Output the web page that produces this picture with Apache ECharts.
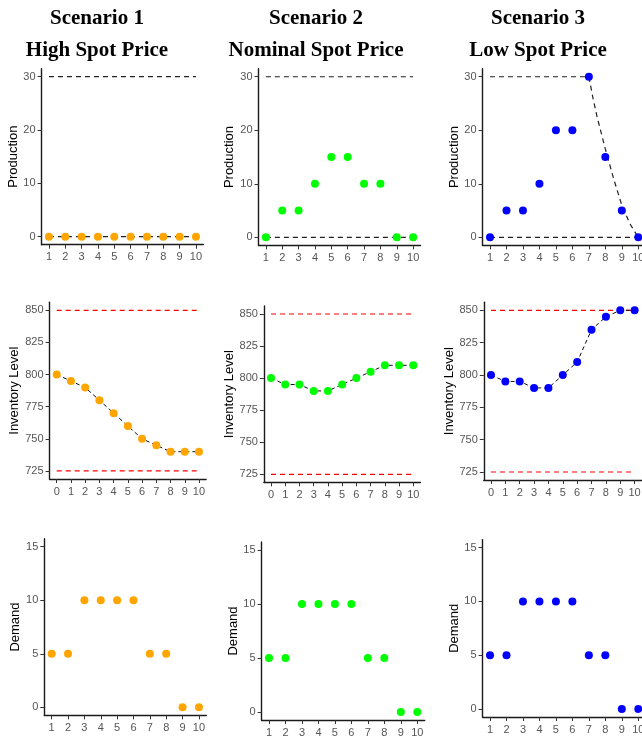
<!DOCTYPE html>
<html>
<head>
<meta charset="utf-8">
<script src="https://cdn.jsdelivr.net/npm/echarts@6/dist/echarts.min.js"></script>
<style>
html, body { margin: 0; padding: 0; background: #fff; }
#chart { width: 642px; height: 738px; }
</style>
</head>
<body>
<div id="chart"></div>
<script>
let myChart = echarts.init(document.getElementById('chart'));

// data
const periods = [1, 2, 3, 4, 5, 6, 7, 8, 9, 10];
const invPeriods = [0, 1, 2, 3, 4, 5, 6, 7, 8, 9, 10];
const scenarioNames = ['Scenario 1', 'Scenario 2', 'Scenario 3'];
const priceNames = ['High Spot Price', 'Nominal Spot Price', 'Low Spot Price'];

const production1 = [0, 0, 0, 0, 0, 0, 0, 0, 0, 0];
const production2 = [0, 5, 5, 10, 15, 15, 10, 10, 0, 0];
const production3 = [0, 5, 5, 10, 20, 20, 30, 15, 5, 0];

const inventory1 = [800, 795, 790, 780, 770, 760, 750, 745, 740, 740, 740];
const inventory2 = [800, 795, 795, 790, 790, 795, 800, 805, 810, 810, 810];
const inventory3 = [800, 795, 795, 790, 790, 800, 810, 835, 845, 850, 850];

const demand1 = [5, 5, 10, 10, 10, 10, 5, 5, 0, 0];
const demand2 = [5, 5, 10, 10, 10, 10, 5, 5, 0, 0];
const demand3 = [5, 5, 10, 10, 10, 10, 5, 5, 0, 0];

// production bounds
const prodLower = [0, 0, 0, 0, 0, 0, 0, 0, 0, 0];
const prodUpper = [30, 30, 30, 30, 30, 30, 30, 30, 30, 30];
const prodUpper3X = [1, 7, 7.25, 7.5, 7.75, 8, 8.5, 9, 9.5, 10];
const prodUpper3Y = [30, 30, 26, 22.5, 19.5, 16.5, 11, 6, 2.5, 0];

// inventory bounds
const invLower = [725, 725, 725, 725, 725, 725, 725, 725, 725, 725, 725];
const invUpper = [850, 850, 850, 850, 850, 850, 850, 850, 850, 850, 850];

// tick labels
const prodTicks = [0, 10, 20, 30];
const invTicks = [725, 750, 775, 800, 825, 850];
const demandTicks = [0, 5, 10, 15];

const colors = ['#FFA500', '#00FF00', '#0000FF'];

// panel boxes [left, top, width, height], row by row
const boxes = [
    [41.6, 68.7, 161.7, 176.0], [258.5, 68.7, 162.0, 176.7], [482.6, 68.7, 163.1, 176.7],
    [49.6, 302.3, 156.5, 176.7], [263.9, 306.0, 156.5, 176.3], [483.8, 302.2, 158.0, 177.9],
    [44.3, 538.7, 162.0, 176.7], [261.6, 541.9, 163.1, 178.2], [482.6, 539.6, 163.1, 177.4]
];

const sans = 'Liberation Sans, Arial, sans-serif';

function pairs(xs, ys) {
    return xs.map(function (x, i) { return [x, ys[i]]; });
}

function pad(lo, hi) {
    let p = (hi - lo) * 0.05;
    return [lo - p, hi + p];
}

let grids = [], xAxes = [], yAxes = [], series = [];

function axisCommon() {
    return {
        axisLine: {show: true, onZero: false, lineStyle: {color: '#1a1a1a', width: 1.4}},
        axisTick: {show: true, length: 4, lineStyle: {color: '#333', width: 1}},
        splitLine: {show: false},
        axisLabel: {color: '#555', fontSize: 11, fontFamily: sans, margin: 6}
    };
}

// returns the grid index of the new panel
function addPanel(boxIdx, xTicks, xRange, yTicks, yRange, yName, nameGap) {
    let b = boxes[boxIdx];
    let idx = grids.length;
    grids.push({left: b[0], top: b[1], width: b[2], height: b[3], outerBoundsMode: 'none', containLabel: false});
    let xa = axisCommon();
    Object.assign(xa, {type: 'value', gridIndex: idx, position: 'bottom', min: xRange[0], max: xRange[1]});
    xa.axisLabel.customValues = xTicks;
    xa.axisTick.customValues = xTicks;
    xa.axisLabel.margin = 7;
    xAxes.push(xa);
    let ya = axisCommon();
    Object.assign(ya, {
        type: 'value', gridIndex: idx, position: 'left', min: yRange[0], max: yRange[1],
        name: yName, nameLocation: 'middle', nameRotate: 90, nameGap: nameGap,
        nameTextStyle: {color: '#000', fontSize: 13, fontFamily: sans}
    });
    ya.axisLabel.customValues = yTicks;
    ya.axisTick.customValues = yTicks;
    yAxes.push(ya);
    return idx;
}

function dashLine(idx, data, color, dash, width) {
    series.push({
        type: 'line', xAxisIndex: idx, yAxisIndex: idx, data: data,
        showSymbol: false, symbol: 'none', silent: true, z: 2,
        lineStyle: {color: color, type: dash, width: width}
    });
}

function points(idx, data, color) {
    series.push({
        type: 'scatter', xAxisIndex: idx, yAxisIndex: idx, data: data,
        symbol: 'circle', symbolSize: 8, z: 3,
        itemStyle: {color: color, opacity: 1}
    });
}

const prodRange = pad(0, 30);
const invRange = pad(725, 850);
const demandRange = pad(0, 15);
const xRange10 = pad(1, 10);
const xRangeInv = pad(0, 10);

const production = [production1, production2, production3];
const inventory = [inventory1, inventory2, inventory3];
const demand = [demand1, demand2, demand3];

for (let s = 0; s < 3; s++) {
    // production row
    let p = addPanel(s, periods, xRange10, prodTicks, prodRange, 'Production', 21);
    dashLine(p, pairs(periods, prodLower), '#222', [5, 4], 1.2);
    if (s < 2) {
        dashLine(p, pairs(periods, prodUpper), '#222', [5, 4], 1.2);
    } else {
        dashLine(p, pairs(prodUpper3X, prodUpper3Y), '#222', [5, 4], 1.2);
    }
    points(p, pairs(periods, production[s]), colors[s]);

    // inventory row
    let q = addPanel(s + 3, invPeriods, xRangeInv, invTicks, invRange, 'Inventory Level', 25.5);
    dashLine(q, pairs(invPeriods, invLower), '#FF0000', [5, 4], 1.2);
    dashLine(q, pairs(invPeriods, invUpper), '#FF0000', [5, 4], 1.2);
    dashLine(q, pairs(invPeriods, inventory[s]), '#111', [4, 3], 1.0);
    points(q, pairs(invPeriods, inventory[s]), colors[s]);

    // demand row
    let r = addPanel(s + 6, periods, xRange10, demandTicks, demandRange, 'Demand', 20.5);
    points(r, pairs(periods, demand[s]), colors[s]);
}

const titleCenters = [97, 316, 538];

option = {
    animation: false,
    backgroundColor: '#fff',
    title: titleCenters.map(function (cx, i) {
        return {
            text: scenarioNames[i] + '\n' + priceNames[i],
            left: cx, top: 2.5, textAlign: 'center', padding: 0,
            textStyle: {
                color: '#000', fontFamily: 'Liberation Serif, Times New Roman, serif',
                fontWeight: 'bold', fontSize: 21, lineHeight: 32
            }
        };
    }),
    grid: grids,
    xAxis: xAxes,
    yAxis: yAxes,
    series: series
};
myChart.setOption(option);
</script>
</body>
</html>
